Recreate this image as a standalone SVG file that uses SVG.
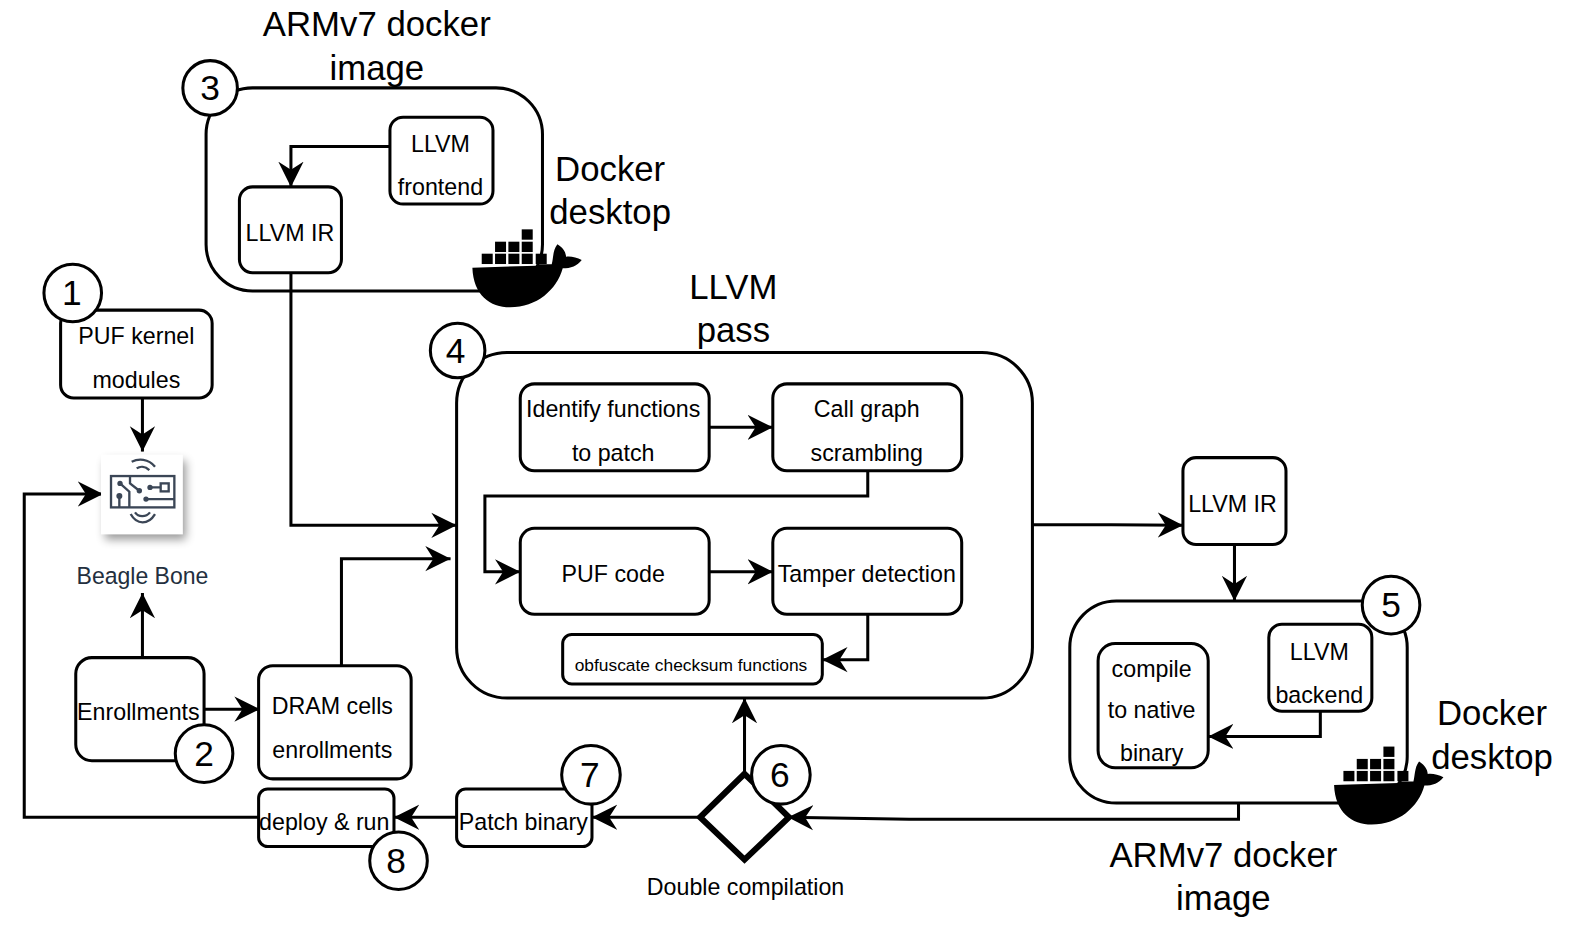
<svg xmlns="http://www.w3.org/2000/svg" width="1584" height="939" viewBox="0 0 1584 939">
<style>
text{font-family:"Liberation Sans",Arial,sans-serif;fill:#000;text-anchor:middle}
.box{fill:#fff;stroke:#000;stroke-width:3}
.group{fill:none;stroke:#000;stroke-width:3}
.num{fill:#fff;stroke:#000;stroke-width:3}
.t{font-size:23px}
.n{font-size:35px}
.h{font-size:34.400px}
.c{fill:none;stroke:#000;stroke-width:3;marker-end:url(#ah)}
</style>
<defs>
<marker id="ah" markerUnits="userSpaceOnUse" markerWidth="27" markerHeight="28" refX="25" refY="14" orient="auto"><path d="M25,14 L0,1.500 L8,14 L0,26.500 Z" fill="#000"/></marker>
<filter id="sh" x="-20%" y="-20%" width="150%" height="150%"><feGaussianBlur stdDeviation="5"/></filter>
<g id="whale">
<path fill="#000" d="M97,203 L290,197 L300,193 L335,193 C340,175 338,150 352,133 C368,143 377,155 378,170 C392,168 410,172 425,180 C412,198 392,205 368,205 C350,270 290,322 210,322 C150,322 100,285 97,203Z"/>
<g fill="#000"><rect x="125" y="161" width="33" height="31"/><rect x="165" y="161" width="33" height="31"/><rect x="205" y="161" width="33" height="31"/><rect x="245" y="161" width="33" height="31"/><rect x="287" y="161" width="33" height="31"/><rect x="165" y="125" width="33" height="31"/><rect x="205" y="125" width="33" height="31"/><rect x="245" y="125" width="33" height="31"/><rect x="245" y="88" width="33" height="31"/></g>
</g>
</defs>
<rect width="1584" height="939" fill="#fff"/>
<g transform="scale(1.0102)">
<g id="container-3"><rect class="group" x="204" y="87" width="333" height="201" rx="46"/></g>
<g id="container-4"><rect class="group" x="452" y="349" width="570" height="342" rx="50"/></g>
<g id="container-5"><rect class="group" x="1059" y="595" width="334" height="200" rx="46"/></g>
<g id="connectors">
<path class="c" d="M386,145H288V185"/>
<path class="c" d="M288,270V520H452"/>
<path class="c" d="M141,394V447"/>
<path class="c" d="M256,809H24V489H102"/>
<path class="c" d="M141,651V587"/>
<path class="c" d="M202,702H257"/>
<path class="c" d="M338,659V553H446"/>
<path class="c" d="M702,423H765"/>
<path class="c" d="M859,466V491H480V566H515"/>
<path class="c" d="M702,566H765"/>
<path class="c" d="M859,608V653H814"/>
<path class="c" d="M1022,519.500H1100L1171,520"/>
<path class="c" d="M1222,539V595"/>
<path class="c" d="M1307,704V729H1196"/>
<path class="c" d="M1226,795V811H900L780,809"/>
<path class="c" d="M737,765V691"/>
<path class="c" d="M693,809H586"/>
<path class="c" d="M452,809H390"/>
</g>
<g id="llvm-frontend"><rect class="box" x="386" y="116" width="102" height="86" rx="13"/><text class="t" x="436" y="150">LLVM</text><text class="t" x="436" y="193">frontend</text></g>
<g id="llvm-ir-top"><rect class="box" x="237" y="185" width="101" height="85" rx="13"/><text class="t" x="287" y="239">LLVM IR</text></g>
<g id="puf-kernel"><rect class="box" x="60" y="307" width="150" height="87" rx="13"/><text class="t" x="135" y="341">PUF kernel</text><text class="t" x="135" y="384">modules</text></g>
<g id="beagle-bone">
<rect x="104" y="456" width="80" height="78" fill="#000" opacity=".4" filter="url(#sh)"/>
<rect x="100" y="450" width="81" height="79" fill="#fff"/>
<g transform="translate(39.600,257.400) scale(.33)" fill="none" stroke="#3b4656" stroke-width="7">
<rect x="213" y="648" width="190" height="94"/>
<path d="M275,605 C295,595 325,595 345,620 M290,625 C300,618 315,618 328,630 M272,762 C290,795 325,795 345,762 M285,757 C295,772 318,772 330,757"/>
<path d="M270,650 V670 L298,692 M240,670 L268,695 V742 M238,708 V742 M330,682 H360 M318,717 H403"/>
<rect x="362" y="670" width="24" height="24"/>
<g fill="#3b4656" stroke="none"><circle cx="298" cy="692" r="8"/><circle cx="240" cy="670" r="8"/><circle cx="238" cy="708" r="9"/><circle cx="330" cy="682" r="8"/><circle cx="318" cy="717" r="8"/></g>
</g>
<text x="141" y="578" style="font-size:22.800px;fill:#232f3e">Beagle Bone</text>
</g>
<g id="enrollments"><rect class="box" x="75" y="651" width="127" height="102" rx="16"/><text class="t" x="137" y="713">Enrollments</text></g>
<g id="dram"><rect class="box" x="256" y="659" width="151" height="112" rx="14"/><text class="t" x="329" y="707">DRAM cells</text><text class="t" x="329" y="750">enrollments</text></g>
<g id="identify"><rect class="box" x="515" y="380" width="187" height="86" rx="14"/><text class="t" x="607" y="413">Identify functions</text><text class="t" x="607" y="456">to patch</text></g>
<g id="call-graph"><rect class="box" x="765" y="380" width="187" height="86" rx="14"/><text class="t" x="858" y="413">Call graph</text><text class="t" x="858" y="456">scrambling</text></g>
<g id="puf-code"><rect class="box" x="515" y="523" width="187" height="85" rx="14"/><text class="t" x="607" y="576">PUF code</text></g>
<g id="tamper"><rect class="box" x="765" y="523" width="187" height="85" rx="14"/><text class="t" x="858" y="576">Tamper detection</text></g>
<g id="obfuscate"><rect class="box" x="557" y="628" width="257" height="49" rx="9"/><text x="684" y="664" style="font-size:17.200px">obfuscate checksum functions</text></g>
<g id="llvm-ir-right"><rect class="box" x="1171" y="453" width="102" height="86" rx="13"/><text class="t" x="1220" y="507">LLVM IR</text></g>
<g id="llvm-backend"><rect class="box" x="1256" y="618" width="102" height="86" rx="13"/><text class="t" x="1306" y="653">LLVM</text><text class="t" x="1306" y="696">backend</text></g>
<g id="compile"><rect class="box" x="1087" y="637" width="109" height="123" rx="17"/><text class="t" x="1140" y="670">compile</text><text class="t" x="1140" y="711">to native</text><text class="t" x="1140" y="753">binary</text></g>
<g id="patch"><rect class="box" x="452" y="781" width="134" height="57" rx="9"/><text class="t" x="518" y="822">Patch binary</text></g>
<g id="deploy"><rect class="box" x="256" y="781" width="134" height="57" rx="9"/><text class="t" x="321" y="822">deploy &amp; run</text></g>
<g id="decision"><path d="M737,766 L781,809 L737,851 L693,809Z" fill="#fff" stroke="#000" stroke-width="6"/><text x="738" y="886" style="font-size:23px">Double compilation</text></g>
<use href="#whale" transform="translate(435.600,198) scale(.33)"/>
<use href="#whale" transform="translate(1288.600,710) scale(.33)"/>
<g id="labels">
<text class="h" x="373" y="36">ARMv7 docker</text><text class="h" x="373" y="79">image</text>
<text class="h" x="604" y="179">Docker</text><text class="h" x="604" y="222">desktop</text>
<text class="h" x="726" y="296">LLVM</text><text class="h" x="726" y="339">pass</text>
<text class="h" x="1477" y="718">Docker</text><text class="h" x="1477" y="761">desktop</text>
<text class="h" x="1211" y="858">ARMv7 docker</text><text class="h" x="1211" y="901">image</text>
</g>
<g id="badge-1"><circle class="num" cx="72" cy="290" r="28.500"/><text class="n" x="71" y="302">1</text></g>
<g id="badge-2"><circle class="num" cx="202" cy="746" r="28.500"/><text class="n" x="202" y="758">2</text></g>
<g id="badge-3"><circle class="num" cx="208" cy="87" r="27"/><text class="n" x="208" y="99">3</text></g>
<g id="badge-4"><circle class="num" cx="453" cy="347" r="27"/><text class="n" x="451" y="359">4</text></g>
<g id="badge-5"><circle class="num" cx="1377" cy="599" r="28.500"/><text class="n" x="1377" y="611">5</text></g>
<g id="badge-6"><circle class="num" cx="773" cy="767" r="29"/><text class="n" x="772" y="779">6</text></g>
<g id="badge-7"><circle class="num" cx="585" cy="767" r="29"/><text class="n" x="584" y="779">7</text></g>
<g id="badge-8"><circle class="num" cx="394.500" cy="852" r="28.500"/><text class="n" x="392" y="864">8</text></g>
</g>
</svg>
